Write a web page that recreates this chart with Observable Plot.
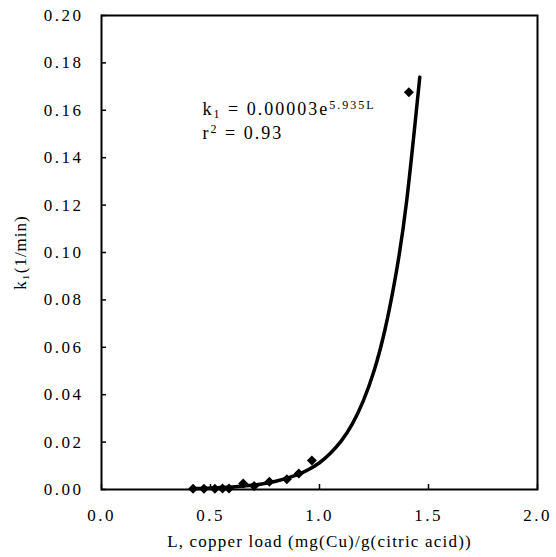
<!DOCTYPE html>
<html><head><meta charset="utf-8">
<script src="https://cdn.jsdelivr.net/npm/d3@7"></script>
<script src="https://cdn.jsdelivr.net/npm/@observablehq/plot@0.6"></script>
<style>
body{margin:0;background:#fff;}
#chart svg, #chart svg text, #chart svg tspan{font-family:"Liberation Serif","DejaVu Serif",serif !important;}
#chart [aria-label="y-axis tick label"] text,
#chart [aria-label="x-axis tick label"] text{letter-spacing:2.5px;}
#chart [aria-label="x-axis label"] text{letter-spacing:1.2px;}
#chart [aria-label="y-axis label"] text{letter-spacing:1px;}
#chart .eq text{letter-spacing:2px;}
</style></head><body><div id="chart"></div>
<script>
// Tick values
const xTicks = [0, 0.5, 1.0, 1.5, 2.0];
const yTicks = [0, 0.02, 0.04, 0.06, 0.08, 0.10, 0.12, 0.14, 0.16, 0.18, 0.20];
// Observed points (diamonds)
const loadL = [0.42, 0.47, 0.52, 0.555, 0.585, 0.65, 0.70, 0.77, 0.85, 0.905, 0.965, 1.41];
const k1Obs = [0.0003, 0.0003, 0.0003, 0.0004, 0.0004, 0.0025, 0.0015, 0.0033, 0.0043, 0.0068, 0.0122, 0.1676];
// Fitted curve
const fitL = [0.42, 0.60, 0.70, 0.80, 0.90, 0.95, 1.00, 1.05, 1.10, 1.15, 1.20, 1.25, 1.30, 1.35, 1.40, 1.46];
const fitK = [0.0004, 0.0011, 0.0019, 0.0035, 0.0063, 0.0084, 0.0113, 0.0153, 0.0205, 0.0276, 0.0372, 0.050, 0.0673, 0.0905, 0.1219, 0.1740];
// Labels
const xLabel = "L, copper load (mg(Cu)/g(citric acid))";
const yLabel = "k\u2081(1/min)";
const eqLine1 = [["k", ""], ["1", "sub"], [" = 0.00003e", ""], ["5.935L", "sup"]];
const eqLine2 = [["r", ""], ["2", "sup"], [" = 0.93", ""]];

const points = loadL.map((l, i) => ({l, k: k1Obs[i]}));
const fit = fitL.map((l, i) => ({l, k: fitK[i]}));
const joinEq = parts => parts.map(p => p[0]).join("");

const W = 556, H = 557, ML = 101, MR = 19, MT = 15, MB = 68;
const TICK = 5;

const plot = Plot.plot({
  width: W, height: H,
  marginLeft: ML, marginRight: MR, marginTop: MT, marginBottom: MB,
  style: {fontSize: "17px", color: "#000", background: "#fff"},
  x: {domain: [0, 2]},
  y: {domain: [0, 0.2]},
  marks: [
    Plot.axisY({ticks: yTicks, tickFormat: d3.format(".2f"), tickSize: 0, tickPadding: 18,
      label: yLabel, labelAnchor: "center", labelArrow: "none", labelOffset: 88, fontSize: 17}),
    Plot.axisX({ticks: xTicks, tickFormat: d3.format(".1f"), tickSize: 0, tickPadding: 19,
      label: xLabel, labelAnchor: "center", labelArrow: "none", labelOffset: 57, fontSize: 17}),
    // inward tick marks
    Plot.tickY(yTicks, {y: d => d, stroke: "#000", strokeWidth: 1.5, insetRight: W - ML - MR - TICK}),
    Plot.tickX(xTicks, {x: d => d, stroke: "#000", strokeWidth: 1.5, insetTop: H - MT - MB - TICK}),
    Plot.frame({stroke: "#000", strokeWidth: 2}),
    Plot.line(fit, {x: "l", y: "k", curve: "natural", stroke: "#000", strokeWidth: 3.5}),
    Plot.dot(points, {x: "l", y: "k", symbol: "diamond2", r: 4.5, fill: "#000", stroke: "none"}),
    Plot.text([eqLine1], {text: d => joinEq(d), frameAnchor: "top-left", dx: 101, dy: 94, textAnchor: "start", lineAnchor: "middle", fontSize: 18, className: "eq"}),
    Plot.text([eqLine2], {text: d => joinEq(d), frameAnchor: "top-left", dx: 101, dy: 118, textAnchor: "start", lineAnchor: "middle", fontSize: 18, className: "eq"})
  ]
});
document.getElementById("chart").appendChild(plot);

// Rebuild the equation texts with sub/superscripts
[eqLine1, eqLine2].forEach(parts => {
  const full = joinEq(parts);
  plot.querySelectorAll("text").forEach(el => {
    if (el.textContent === full) {
      el.textContent = "";
      let shift = 0;
      parts.forEach(([t, kind]) => {
        const ts = document.createElementNS("http://www.w3.org/2000/svg", "tspan");
        ts.textContent = t;
        const target = kind === "sub" ? 3 : kind === "sup" ? -6 : 0;
        ts.setAttribute("dy", target - shift);
        shift = target;
        if (kind) ts.setAttribute("font-size", 12);
        el.appendChild(ts);
      });
    }
  });
});
</script>
</body></html>
